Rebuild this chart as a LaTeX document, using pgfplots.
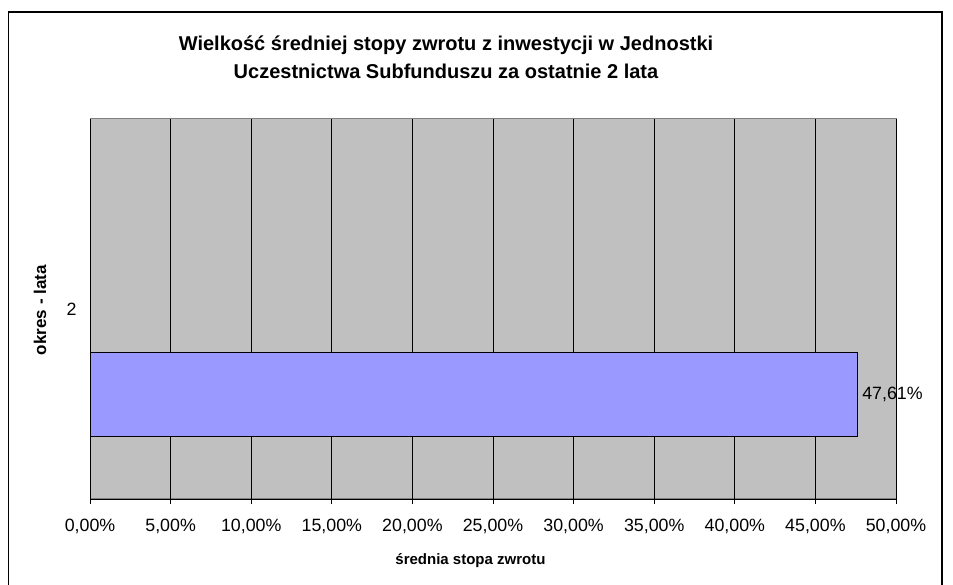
\documentclass[border=0pt]{standalone}
\usepackage{pgfplots}
\pgfplotsset{compat=1.18}
\usepackage{fontspec}
\setmainfont{Liberation Sans}
\definecolor{plotgray}{HTML}{C0C0C0}
\definecolor{framegray}{HTML}{808080}
\definecolor{barblue}{HTML}{9999FF}
\begin{document}
\begin{tikzpicture}
\useasboundingbox (0pt,0pt) rectangle (953pt,585pt);
\draw[black, line width=1.2pt] (8.5pt,-2pt) -- (8.5pt,573pt) -- (942pt,573pt) -- (942pt,-2pt);
\begin{axis}[
  at={(90pt,86pt)}, anchor=south west,
  scale only axis, width=806pt, height=380pt,
  xmin=0, xmax=0.5, ymin=0, ymax=1,
  axis x line*=bottom, axis y line*=left,
  axis line style={black, line width=0.9pt},
  axis background/.style={fill=plotgray, draw=framegray, line width=1pt},
  xtick={0,0.05,0.1,0.15,0.2,0.25,0.3,0.35,0.4,0.45,0.5},
  xticklabels={{0,00\%},{5,00\%},{10,00\%},{15,00\%},{20,00\%},{25,00\%},{30,00\%},{35,00\%},{40,00\%},{45,00\%},{50,00\%}},
  xmajorgrids, major grid style={black, line width=0.7pt},
  ytick={0.5}, yticklabels={2},
  y tick style={draw=none},
  extra y ticks={0,1}, extra y tick labels={},
  extra y tick style={major tick length=6pt, tick style={black, line width=0.9pt}, grid=none},
  tick align=outside, major tick length=5pt,
  x tick style={black, line width=0.9pt},
  tick label style={font=\fontsize{17.8}{20}\selectfont, text=black},
  xticklabel style={yshift=-12pt},
  yticklabel style={xshift=-5pt},
  /pgf/number format/assume math mode=true,
  title={Wielkość średniej stopy zwrotu z inwestycji w Jednostki\\Uczestnictwa Subfunduszu za ostatnie 2 lata},
  title style={at={(rel axis cs:0.4417,1.146)}, anchor=center, align=center, font=\bfseries\fontsize{20}{28}\selectfont},
  xlabel={średnia stopa zwrotu},
  xlabel style={at={(rel axis cs:0.472,-0.161)}, anchor=center, font=\bfseries\fontsize{15}{18}\selectfont},
  ylabel={okres - lata},
  ylabel style={at={(rel axis cs:-0.062,0.497)}, anchor=center, rotate=0, font=\bfseries\fontsize{17}{18}\selectfont},
  clip=false,
]
\addplot[xbar, bar width=0.221, bar shift=0pt, fill=barblue, draw=black, line width=1pt,
  nodes near coords={47,61\%},
  every node near coord/.append style={font=\fontsize{17.8}{20}\selectfont, text=black, anchor=west, xshift=1pt}]
  coordinates {(0.4761,0.276)};
\end{axis}
\end{tikzpicture}
\end{document}
